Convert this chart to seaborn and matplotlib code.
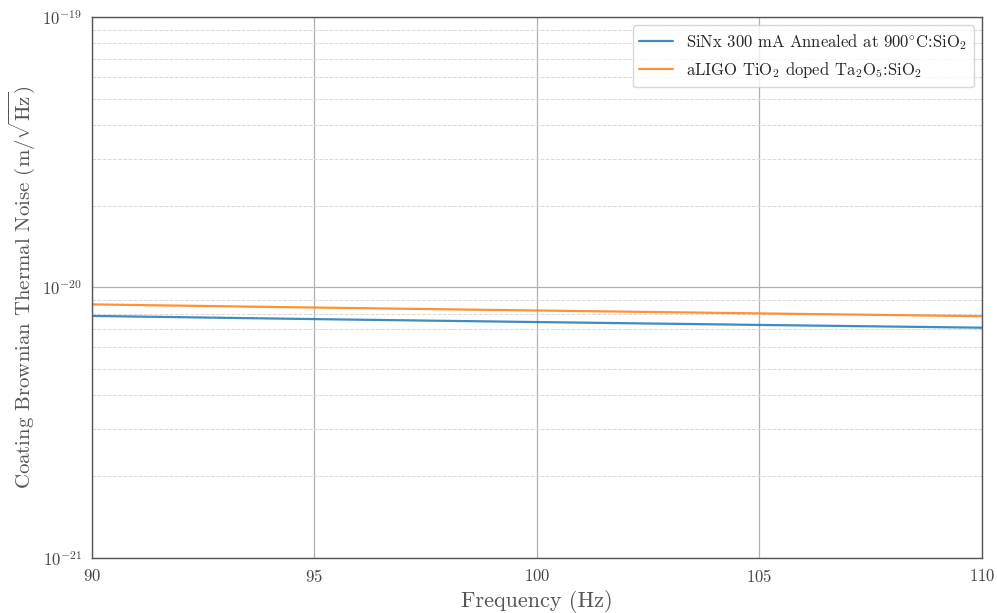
import numpy as np
import pandas as pd
import matplotlib
matplotlib.use("Agg")
import matplotlib.pyplot as plt
import seaborn as sns
from matplotlib.ticker import LogLocator

freq = [90, 95, 100, 105, 110]
sinx_noise = [7.85e-21, 7.64e-21, 7.45e-21, 7.27e-21, 7.10e-21]
aligo_noise = [8.66e-21, 8.43e-21, 8.22e-21, 8.02e-21, 7.83e-21]
label_sinx = r"SiNx 300 mA Annealed at 900$^{\circ}$C:SiO$_2$"
label_aligo = r"aLIGO TiO$_2$ doped Ta$_2$O$_5$:SiO$_2$"

sns.set_style("whitegrid")
plt.rcParams["font.family"] = ["serif"]
plt.rcParams["font.serif"] = ["cmr10", "DejaVu Serif"]
plt.rcParams["mathtext.fontset"] = "cm"
plt.rcParams["axes.formatter.use_mathtext"] = True
plt.rcParams["axes.unicode_minus"] = False

df = pd.concat([
    pd.DataFrame({"f": freq, "noise": sinx_noise, "coating": label_sinx}),
    pd.DataFrame({"f": freq, "noise": aligo_noise, "coating": label_aligo}),
])

fig, ax = plt.subplots(figsize=(9.97, 6.13), dpi=100)
sns.lineplot(data=df, x="f", y="noise", hue="coating",
             palette=["#1f77b4", "#ff7f0e"], linewidth=1.6, alpha=0.85, ax=ax)
ax.set_yscale("log")
ax.set_xlim(90, 110)
ax.set_ylim(1e-21, 1e-19)
ax.set_xticks([90, 95, 100, 105, 110])
ax.yaxis.set_minor_locator(LogLocator(base=10, subs=np.arange(2, 10), numticks=20))
ax.grid(True, which="major", color="#b0b0b0", linewidth=0.9)
ax.grid(True, which="minor", axis="y", color="#d8d8d8", linestyle="--", linewidth=0.7)
ax.set_xlabel("Frequency (Hz)", fontsize=16, color="#555555")
ax.set_ylabel(r"Coating Brownian Thermal Noise (m/$\sqrt{\rm Hz}$)", fontsize=15, color="#555555")
ax.tick_params(axis="both", labelsize=12, colors="#444444", which="major")
for s in ax.spines.values():
    s.set_edgecolor("#555555")
    s.set_linewidth(1.0)
leg = ax.legend(loc="upper right", fontsize=12, frameon=True, title=None)
leg.get_frame().set_edgecolor("#cccccc")
fig.subplots_adjust(left=0.092, right=0.985, top=0.972, bottom=0.09)
fig.savefig("out.png", dpi=100)
